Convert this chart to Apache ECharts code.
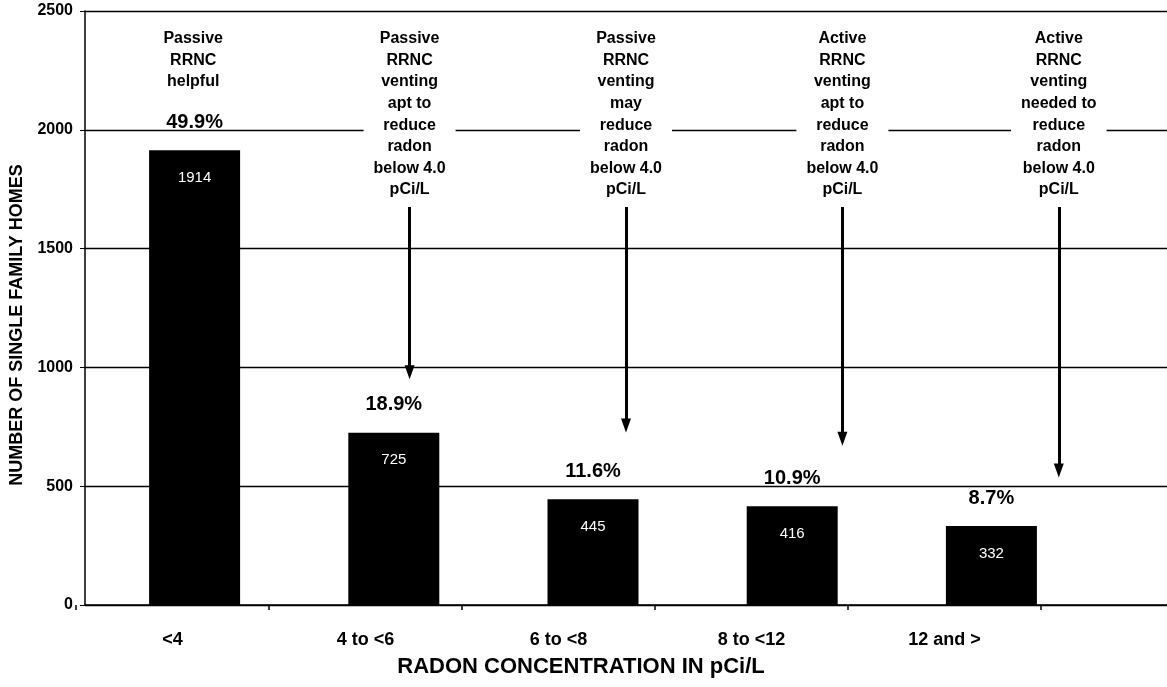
<!DOCTYPE html>
<html>
<head>
<meta charset="utf-8">
<script src="https://cdn.jsdelivr.net/npm/echarts@6/dist/echarts.min.js"></script>
<style>
  html, body { margin: 0; padding: 0; background: #fff; }
  #chart { width: 1167px; height: 687px; }
</style>
</head>
<body>
<div id="chart"></div>
<script>
// ---- data ----
const categories = ['<4', '4 to <6', '6 to <8', '8 to <12', '12 and >'];
const homes = [1914, 725, 445, 416, 332];
const percents = [49.9, 18.9, 11.6, 10.9, 8.7];
const annotations = [
  'Passive\nRRNC\nhelpful',
  'Passive\nRRNC\nventing\napt to\nreduce\nradon\nbelow 4.0\npCi/L',
  'Passive\nRRNC\nventing\nmay\nreduce\nradon\nbelow 4.0\npCi/L',
  'Active\nRRNC\nventing\napt to\nreduce\nradon\nbelow 4.0\npCi/L',
  'Active\nRRNC\nventing\nneeded to\nreduce\nradon\nbelow 4.0\npCi/L'
];
const arrowStart = 1675;
const arrowEnd = [null, 980, 755, 700, 566];
const yMin = 0, yMax = 2500, yStep = 500;

const FONT = "'Liberation Sans', Arial, sans-serif";
const annotY = 2441;

const chart = echarts.init(document.getElementById('chart'), null, { renderer: 'canvas' });

const arrowLines = [];
categories.forEach((c, i) => {
  if (arrowEnd[i] != null) {
    arrowLines.push([{ coord: [c, arrowStart] }, { coord: [c, arrowEnd[i]] }]);
  }
});

const yHidden = { type: 'value', min: yMin, max: yMax, interval: yStep, show: false };

const option = {
  animation: false,
  backgroundColor: '#fff',
  textStyle: { fontFamily: FONT },
  grid: [
    { left: 95, right: 76, top: 11, bottom: 82 },   // bars
    { left: 85, right: 0, top: 11, bottom: 82 },    // frame, gridlines, annotations
    { left: 76, right: 126, top: 11, bottom: 82 }   // category labels
  ],
  xAxis: [
    { type: 'category', gridIndex: 0, data: categories, show: false },
    {
      type: 'category', gridIndex: 1, data: categories,
      axisLine: { show: true, lineStyle: { color: '#000', width: 1.5 } },
      axisTick: { show: false }, axisLabel: { show: false },
      name: 'RADON CONCENTRATION IN pCi/L', nameLocation: 'middle', nameGap: 51,
      nameTextStyle: { fontFamily: FONT, fontWeight: 'bold', fontSize: 22, color: '#000', padding: [0, 90, 0, 0] }
    },
    {
      type: 'category', gridIndex: 2, data: categories,
      axisLine: { show: false },
      axisTick: { show: true, length: 5, lineStyle: { color: '#000', width: 1.5 } },
      axisLabel: { fontFamily: FONT, fontWeight: 'bold', fontSize: 18, color: '#000', margin: 26 }
    }
  ],
  yAxis: [
    Object.assign({ gridIndex: 0 }, yHidden),
    {
      type: 'value', gridIndex: 1, min: yMin, max: yMax, interval: yStep,
      axisLine: { show: true, lineStyle: { color: '#000', width: 1.5 } },
      axisTick: { show: true, length: 5, lineStyle: { color: '#000' } },
      axisLabel: { fontFamily: FONT, fontWeight: 'bold', fontSize: 16, color: '#000', margin: 12,
                   formatter: (v) => String(v) },
      splitLine: { show: true, lineStyle: { color: '#000', width: 1.3 } },
      name: 'NUMBER OF SINGLE FAMILY HOMES', nameLocation: 'middle', nameGap: 58,
      nameTextStyle: { fontFamily: FONT, fontWeight: 'bold', fontSize: 18, color: '#000', padding: [0, 34, 0, 0] }
    },
    Object.assign({ gridIndex: 2 }, yHidden)
  ],
  series: [
    {
      type: 'bar', xAxisIndex: 0, yAxisIndex: 0, data: homes,
      barWidth: 91, barGap: '-100%', silent: true, z: 3,
      itemStyle: { color: '#000' },
      label: {
        show: true, position: 'insideTop', distance: 20,
        color: '#fff', fontFamily: FONT, fontSize: 15
      }
    },
    {
      type: 'bar', xAxisIndex: 0, yAxisIndex: 0, data: homes,
      barWidth: 91, barGap: '-100%', silent: true, z: 2,
      itemStyle: { color: 'rgba(0,0,0,0)' },
      label: {
        show: true, position: 'top', distance: 18,
        color: '#000', fontFamily: FONT, fontWeight: 'bold', fontSize: 20,
        formatter: (p) => percents[p.dataIndex].toFixed(1) + '%'
      }
    },
    {
      type: 'scatter', xAxisIndex: 1, yAxisIndex: 1, silent: true, z: 5,
      symbolSize: 0,
      itemStyle: { opacity: 1, color: '#000' },
      data: categories.map((c, i) => [c, annotY]),
      label: {
        show: true, position: 'bottom', distance: 0,
        formatter: (p) => annotations[p.dataIndex],
        fontFamily: FONT, fontWeight: 'bold', fontSize: 16, lineHeight: 21.6,
        color: '#000', align: 'center',
        backgroundColor: '#fff', padding: [3, 10]
      },
      markLine: {
        silent: true,
        symbol: ['none', 'triangle'],
        symbolSize: [10, 14],
        label: { show: false },
        lineStyle: { color: '#000', width: 3, type: 'solid', opacity: 1 },
        data: arrowLines
      }
    }
  ]
};

chart.setOption(option);
</script>
</body>
</html>
